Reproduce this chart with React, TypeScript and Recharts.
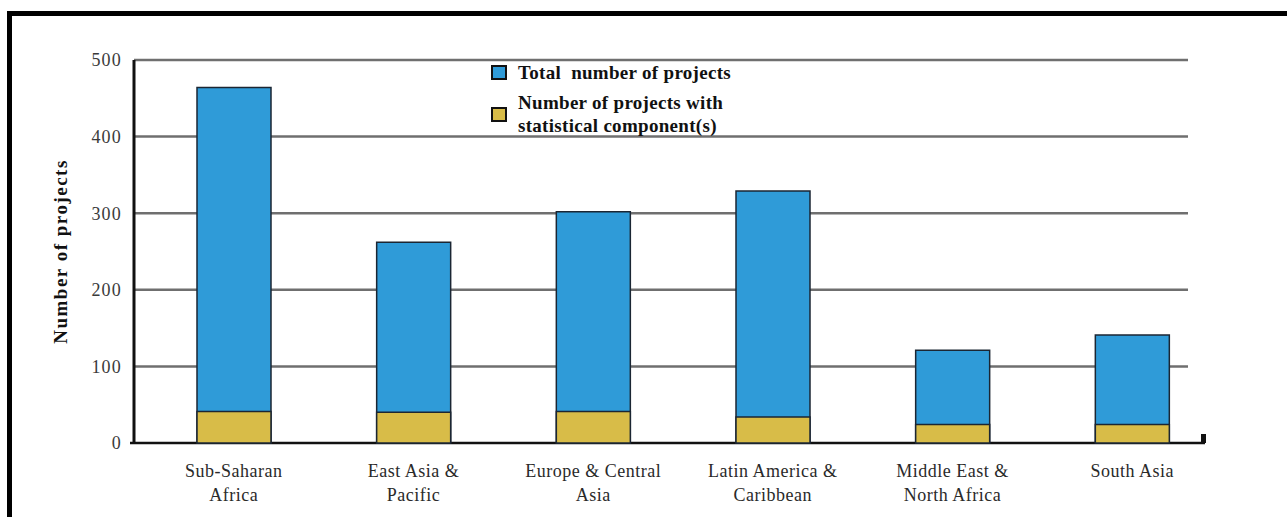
import { BarChart, Bar, XAxis, YAxis, CartesianGrid, Legend } from 'recharts';

const regions = [
  'Sub-Saharan\nAfrica',
  'East Asia &\nPacific',
  'Europe & Central\nAsia',
  'Latin America &\nCaribbean',
  'Middle East &\nNorth Africa',
  'South Asia',
];
const totalProjects = [464, 262, 302, 329, 121, 141];
const statProjects = [41, 40, 41, 34, 24, 24];
const yTicks = [0, 100, 200, 300, 400, 500];

const totalName = 'Total\u00a0 number of projects';
const statName = 'Number of projects with\nstatistical component(s)';
const legendOrder = ['total', 'stat'];

const data = regions.map((region, i) => ({
  region,
  total: totalProjects[i],
  stat: statProjects[i],
}));

const SERIF = '"Liberation Serif", "DejaVu Serif", serif';

// two-line category labels
const CategoryTick = ({ x, y, payload }: any) => {
  const lines = String(payload.value).split('\n');
  return (
    <text
      x={x}
      y={y}
      textAnchor="middle"
      fill="#2a2a2a"
      fontSize={18}
      letterSpacing={0.5}
      fontFamily={SERIF}
    >
      {lines.map((line, i) => (
        <tspan key={i} x={x} dy={i === 0 ? 34 : 24}>
          {line}
        </tspan>
      ))}
    </text>
  );
};

// grid lines stop short of the plot edge; the zero line is the black baseline
const GridLine = (props: any) => {
  const { x1, y1, x2, y2, y, height } = props;
  const isBase = Math.abs(y1 - (y + height)) < 1;
  if (isBase) {
    return (
      <g key={props.key}>
        <line x1={x1 - 4} y1={y1} x2={x2 - 17} y2={y2} stroke="#111" strokeWidth={2.5} />
        <rect x={x2 - 21} y={y1 - 9} width={5} height={9} fill="#111" />
      </g>
    );
  }
  return <line key={props.key} x1={x1} y1={y1} x2={x2 - 34} y2={y2} stroke="#6f6f6f" strokeWidth={2.5} />;
};

const renderLegend = ({ payload }: any) => {
  const items = [...(payload || [])].sort(
    (a: any, b: any) => legendOrder.indexOf(a.dataKey) - legendOrder.indexOf(b.dataKey)
  );
  return (
    <div
      style={{
        fontFamily: SERIF,
        fontWeight: 'bold',
        fontSize: 19,
        letterSpacing: 0.3,
        color: '#111',
      }}
    >
      {items.map((entry: any, i: number) => (
        <div key={i} style={{ display: 'flex', alignItems: 'center', marginBottom: 7 }}>
          <span
            style={{
              display: 'inline-block',
              width: 12,
              height: 11,
              background: entry.color,
              border: '2px solid #111',
              marginRight: 11,
              flexShrink: 0,
            }}
          />
          <span style={{ whiteSpace: 'pre-line', lineHeight: '23px' }}>{entry.value}</span>
        </div>
      ))}
    </div>
  );
};

export default function App() {
  return (
    <div
      style={{
        position: 'absolute',
        left: 0,
        top: 0,
        width: 1287,
        height: 517,
        overflow: 'hidden',
        background: '#fff',
      }}
    >
      <div
        style={{
          position: 'absolute',
          left: 7,
          top: 11,
          width: 1300,
          height: 520,
          borderTop: '5px solid #000',
          borderLeft: '5px solid #000',
        }}
      />
      <div style={{ position: 'absolute', left: 0, top: 0 }}>
        <BarChart
          width={1287}
          height={517}
          data={data}
          margin={{ top: 60, right: 65, bottom: 24, left: 80 }}
        >
          <CartesianGrid vertical={false} horizontal={GridLine} />
          <XAxis
            dataKey="region"
            interval={0}
            height={50}
            padding={{ left: 10, right: 0 }}
            axisLine={false}
            tickLine={false}
            tickSize={0}
            tickMargin={0}
            tick={<CategoryTick />}
          />
          <XAxis xAxisId="overlay" dataKey="region" hide padding={{ left: 10, right: 0 }} />
          <YAxis
            width={54}
            domain={[0, 500]}
            ticks={yTicks}
            interval={0}
            axisLine={{ stroke: '#111', strokeWidth: 3 }}
            tickLine={false}
            tickSize={6}
            tickMargin={6}
            tick={{ fill: '#3a3a3a', fontSize: 18, letterSpacing: 1.2, fontFamily: SERIF }}
            label={{
              value: 'Number of projects',
              angle: -90,
              position: 'left',
              offset: 20,
              fill: '#111',
              fontSize: 19,
              fontWeight: 'bold',
              fontFamily: SERIF,
              style: { textAnchor: 'middle', letterSpacing: 1.5 },
            }}
          />
          <Legend
            layout="vertical"
            align="center"
            verticalAlign="middle"
            content={renderLegend}
            wrapperStyle={{ position: 'absolute', left: 491, top: 61, width: 340 }}
          />
          <Bar
            dataKey="total"
            name={totalName}
            fill="#2f9bd8"
            stroke="#1b2633"
            strokeWidth={1.5}
            barSize={74}
            isAnimationActive={false}
          />
          <Bar
            dataKey="stat"
            name={statName}
            xAxisId="overlay"
            fill="#d8bc48"
            stroke="#1b2633"
            strokeWidth={1.5}
            barSize={74}
            isAnimationActive={false}
          />
        </BarChart>
      </div>
    </div>
  );
}
